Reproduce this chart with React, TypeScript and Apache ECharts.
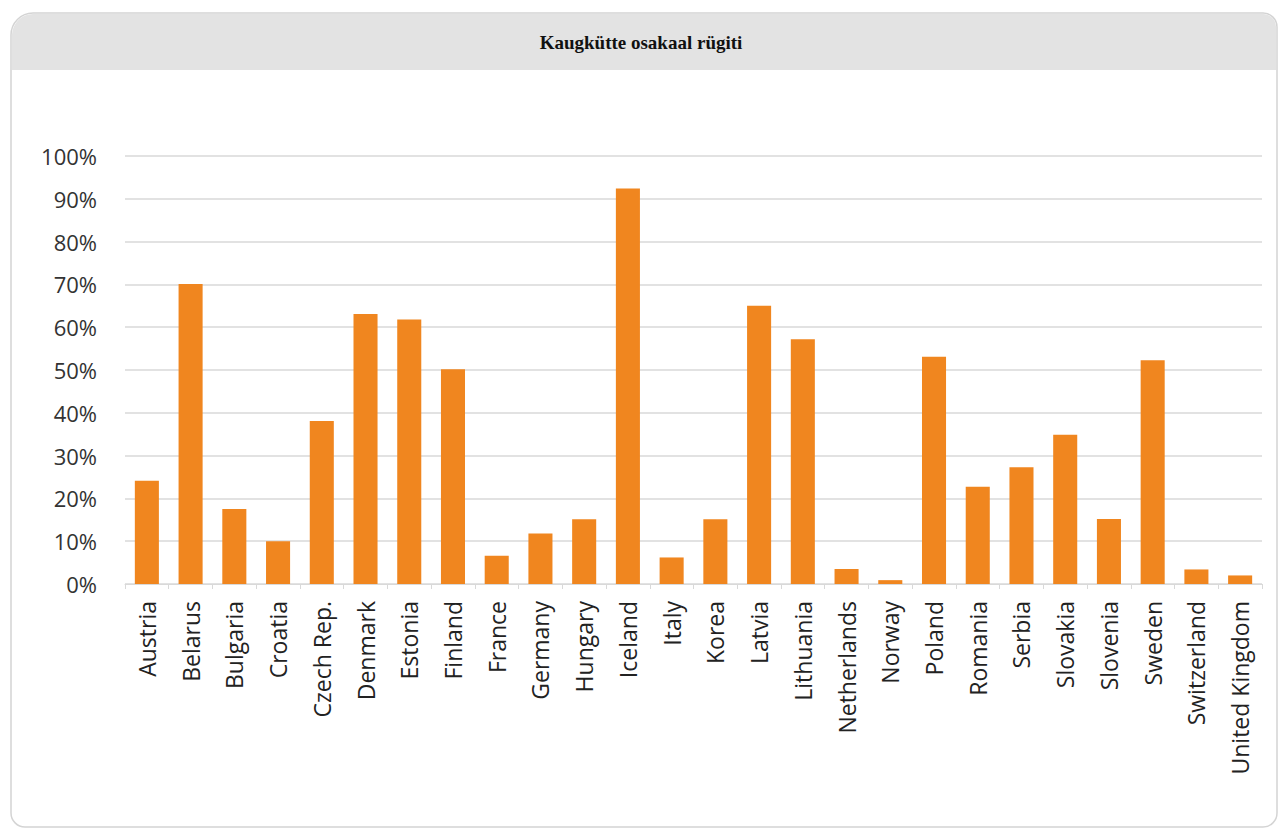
import React, { useEffect, useRef } from "react";
import * as echarts from "echarts";

const TITLE = "Kaugkütte osakaal rügiti";

const countries = [
  "Austria", "Belarus", "Bulgaria", "Croatia", "Czech Rep.", "Denmark", "Estonia",
  "Finland", "France", "Germany", "Hungary", "Iceland", "Italy", "Korea", "Latvia",
  "Lithuania", "Netherlands", "Norway", "Poland", "Romania", "Serbia", "Slovakia",
  "Slovenia", "Sweden", "Switzerland", "United Kingdom",
];

const shares = [
  24.1, 70.1, 17.5, 10.0, 38.1, 63.1, 61.8,
  50.2, 6.6, 11.8, 15.1, 92.4, 6.2, 15.1, 65.0,
  57.2, 3.5, 0.9, 53.1, 22.7, 27.3, 34.9,
  15.2, 52.3, 3.4, 2.0,
];

const yTicks = { min: 0, max: 100, interval: 10 };

export default function App() {
  const ref = useRef<HTMLDivElement>(null);

  useEffect(() => {
    document.body.style.margin = "0";
    const chart = echarts.init(ref.current!, null, { renderer: "svg" });
    chart.setOption({
      animation: false,
      backgroundColor: "#ffffff",
      graphic: [
        {
          type: "rect",
          shape: { x: 11, y: 13, width: 1266, height: 814, r: [22, 14, 14, 14] },
          style: { fill: "#ffffff", stroke: "#d4d4d4", lineWidth: 1.5 },
          z: -10,
          silent: true,
        },
        {
          type: "rect",
          shape: { x: 12, y: 14, width: 1264, height: 56, r: [21, 13, 0, 0] },
          style: { fill: "#e3e3e3" },
          z: -9,
          silent: true,
        },
        {
          type: "text",
          x: 641,
          y: 42,
          style: {
            text: TITLE,
            fill: "#111111",
            font: "bold 19px 'Liberation Serif', 'DejaVu Serif', serif",
            align: "center",
            verticalAlign: "middle",
          },
          z: 5,
        },
      ],
      grid: { left: 125, right: 20, top: 156, bottom: 248, containLabel: false },
      xAxis: {
        type: "category",
        data: countries,
        axisLine: { show: true, lineStyle: { color: "#d9d9d9", width: 1 } },
        axisTick: { show: true, alignWithLabel: false, length: 5, lineStyle: { color: "#d9d9d9" } },
        axisLabel: {
          rotate: 90,
          interval: 0,
          margin: 17,
          color: "#222222",
          fontSize: 23,
          fontFamily: "'Open Sans', 'Noto Sans', sans-serif",
        },
      },
      yAxis: {
        type: "value",
        min: yTicks.min,
        max: yTicks.max,
        interval: yTicks.interval,
        axisLine: { show: false },
        axisTick: { show: false },
        splitLine: { lineStyle: { color: "#d9d9d9", width: 1.5 } },
        axisLabel: {
          formatter: "{value}%",
          margin: 28,
          color: "#333333",
          fontSize: 22,
          fontFamily: "'Open Sans', 'Noto Sans', sans-serif",
        },
      },
      series: [
        {
          type: "bar",
          data: shares,
          barCategoryGap: "45%",
          itemStyle: { color: "#f0861f" },
        },
      ],
    });
    return () => chart.dispose();
  }, []);

  return <div ref={ref} style={{ width: 1282, height: 832 }} />;
}
